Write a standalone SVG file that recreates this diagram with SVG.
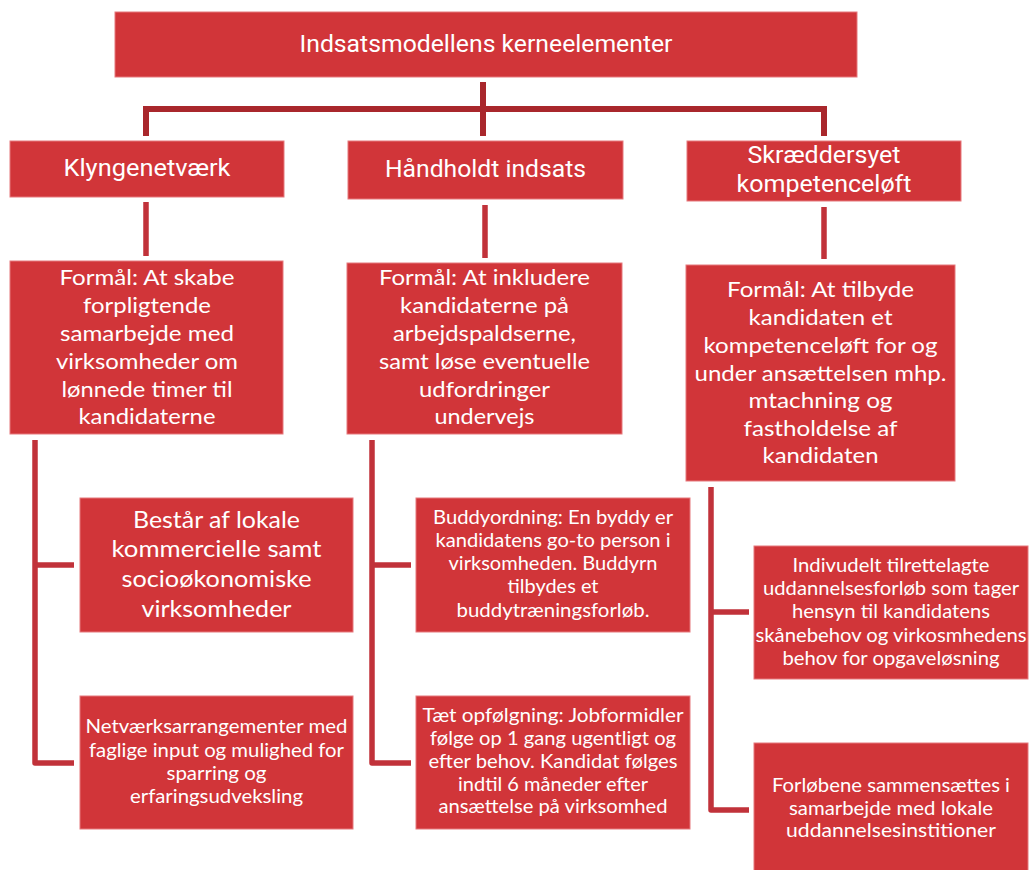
<svg xmlns="http://www.w3.org/2000/svg" width="1029" height="870" viewBox="0 0 1029 870">
<style>
.box{fill:#d13539;stroke:#e6797c;stroke-width:1}
.hd{font-family:Roboto,"Liberation Sans",sans-serif;font-size:24px;fill:#fff;text-anchor:middle}
.t{font-family:Lato,"Open Sans",sans-serif;fill:#fff;text-anchor:middle}
.f21{font-size:21px}
.f22{font-size:22.5px}
.f19{font-size:19px}
.c1{fill:none;stroke:#a9272c;stroke-width:6}
.c2{fill:none;stroke:#c1323a;stroke-width:5.5;stroke-linejoin:round}
</style>
<rect width="1029" height="870" fill="#fff"/>
<g id="connectors">
<path class="c1" d="M483 82V136M146 136V109H824V136"/>
<path class="c2" d="M146 202V256M485 205V258M824 207V259"/>
<path class="c2" d="M35 440V763H74M35 565H74"/>
<path class="c2" d="M372 440V763H411M372 565H411"/>
<path class="c2" d="M711 487V810H749M711 612H749"/>
</g>
<g id="title">
<rect class="box" x="115" y="12" width="742" height="65"/>
<text class="hd" x="486" y="52" textLength="373" lengthAdjust="spacingAndGlyphs">Indsatsmodellens kerneelementer</text>
</g>
<g id="klynge">
<rect class="box" x="10" y="141" width="274" height="56"/>
<text class="hd" x="147" y="176" textLength="167" lengthAdjust="spacingAndGlyphs">Klyngenetværk</text>
</g>
<g id="haandholdt">
<rect class="box" x="348" y="141" width="275" height="58"/>
<text class="hd" x="485.5" y="177" textLength="201" lengthAdjust="spacingAndGlyphs">Håndholdt indsats</text>
</g>
<g id="skraeddersyet">
<rect class="box" x="687" y="141" width="274" height="60"/>
<text class="hd" x="824" y="163" textLength="153" lengthAdjust="spacingAndGlyphs">Skræddersyet</text>
<text class="hd" x="824" y="192" textLength="175" lengthAdjust="spacingAndGlyphs">kompetenceløft</text>
</g>
<g id="formaal1">
<rect class="box" x="10" y="261" width="273" height="173"/>
<text class="t f21" x="147" y="285" textLength="175" lengthAdjust="spacingAndGlyphs">Formål: At skabe</text>
<text class="t f21" x="147" y="313" textLength="128" lengthAdjust="spacingAndGlyphs">forpligtende</text>
<text class="t f21" x="147" y="341" textLength="174" lengthAdjust="spacingAndGlyphs">samarbejde med</text>
<text class="t f21" x="147" y="369" textLength="182" lengthAdjust="spacingAndGlyphs">virksomheder om</text>
<text class="t f21" x="147" y="397" textLength="171" lengthAdjust="spacingAndGlyphs">lønnede timer til</text>
<text class="t f21" x="147" y="424" textLength="137" lengthAdjust="spacingAndGlyphs">kandidaterne</text>
</g>
<g id="formaal2">
<rect class="box" x="347" y="263" width="275" height="171"/>
<text class="t f21" x="484.5" y="285" textLength="211" lengthAdjust="spacingAndGlyphs">Formål: At inkludere</text>
<text class="t f21" x="484.5" y="313" textLength="169" lengthAdjust="spacingAndGlyphs">kandidaterne på</text>
<text class="t f21" x="484.5" y="341" textLength="183" lengthAdjust="spacingAndGlyphs">arbejdspaldserne,</text>
<text class="t f21" x="484.5" y="369" textLength="211" lengthAdjust="spacingAndGlyphs">samt løse eventuelle</text>
<text class="t f21" x="484.5" y="397" textLength="131" lengthAdjust="spacingAndGlyphs">udfordringer</text>
<text class="t f21" x="484.5" y="424" textLength="100" lengthAdjust="spacingAndGlyphs">undervejs</text>
</g>
<g id="formaal3">
<rect class="box" x="686" y="265" width="269" height="216"/>
<text class="t f21" x="820.5" y="297" textLength="187" lengthAdjust="spacingAndGlyphs">Formål: At tilbyde</text>
<text class="t f21" x="820.5" y="325" textLength="144" lengthAdjust="spacingAndGlyphs">kandidaten et</text>
<text class="t f21" x="820.5" y="353" textLength="234" lengthAdjust="spacingAndGlyphs">kompetenceløft for og</text>
<text class="t f21" x="820.5" y="381" textLength="252" lengthAdjust="spacingAndGlyphs">under ansættelsen mhp.</text>
<text class="t f21" x="820.5" y="408" textLength="144" lengthAdjust="spacingAndGlyphs">mtachning og</text>
<text class="t f21" x="820.5" y="436" textLength="154" lengthAdjust="spacingAndGlyphs">fastholdelse af</text>
<text class="t f21" x="820.5" y="463" textLength="116" lengthAdjust="spacingAndGlyphs">kandidaten</text>
</g>
<g id="bestaar">
<rect class="box" x="80" y="498" width="273" height="134"/>
<text class="t f22" x="216.5" y="528" textLength="167" lengthAdjust="spacingAndGlyphs">Består af lokale</text>
<text class="t f22" x="216.5" y="557" textLength="210" lengthAdjust="spacingAndGlyphs">kommercielle samt</text>
<text class="t f22" x="216.5" y="587" textLength="190" lengthAdjust="spacingAndGlyphs">socioøkonomiske</text>
<text class="t f22" x="216.5" y="617" textLength="150" lengthAdjust="spacingAndGlyphs">virksomheder</text>
</g>
<g id="buddy">
<rect class="box" x="416" y="498" width="274" height="134"/>
<text class="t f19" x="553" y="524" textLength="240" lengthAdjust="spacingAndGlyphs">Buddyordning: En byddy er</text>
<text class="t f19" x="553" y="547" textLength="235" lengthAdjust="spacingAndGlyphs">kandidatens go-to person i</text>
<text class="t f19" x="553" y="570" textLength="209" lengthAdjust="spacingAndGlyphs">virksomheden. Buddyrn</text>
<text class="t f19" x="553" y="593" textLength="91" lengthAdjust="spacingAndGlyphs">tilbydes et</text>
<text class="t f19" x="553" y="617" textLength="193" lengthAdjust="spacingAndGlyphs">buddytræningsforløb.</text>
</g>
<g id="individuelt">
<rect class="box" x="754" y="546" width="274" height="133"/>
<text class="t f19" x="891" y="572" textLength="197" lengthAdjust="spacingAndGlyphs">Indivudelt tilrettelagte</text>
<text class="t f19" x="891" y="595" textLength="256" lengthAdjust="spacingAndGlyphs">uddannelsesforløb som tager</text>
<text class="t f19" x="891" y="618" textLength="198" lengthAdjust="spacingAndGlyphs">hensyn til kandidatens</text>
<text class="t f19" x="891" y="642" textLength="271" lengthAdjust="spacingAndGlyphs">skånebehov og virkosmhedens</text>
<text class="t f19" x="891" y="665" textLength="217" lengthAdjust="spacingAndGlyphs">behov for opgaveløsning</text>
</g>
<g id="netvaerk">
<rect class="box" x="80" y="696" width="273" height="133"/>
<text class="t f19" x="216.5" y="733" textLength="262" lengthAdjust="spacingAndGlyphs">Netværksarrangementer med</text>
<text class="t f19" x="216.5" y="757" textLength="255" lengthAdjust="spacingAndGlyphs">faglige input og mulighed for</text>
<text class="t f19" x="216.5" y="780" textLength="100" lengthAdjust="spacingAndGlyphs">sparring og</text>
<text class="t f19" x="216.5" y="803" textLength="173" lengthAdjust="spacingAndGlyphs">erfaringsudveksling</text>
</g>
<g id="taet">
<rect class="box" x="416" y="696" width="274" height="133"/>
<text class="t f19" x="553" y="722" textLength="261" lengthAdjust="spacingAndGlyphs">Tæt opfølgning: Jobformidler</text>
<text class="t f19" x="553" y="745" textLength="246" lengthAdjust="spacingAndGlyphs">følge op 1 gang ugentligt og</text>
<text class="t f19" x="553" y="768" textLength="249" lengthAdjust="spacingAndGlyphs">efter behov. Kandidat følges</text>
<text class="t f19" x="553" y="791" textLength="190" lengthAdjust="spacingAndGlyphs">indtil 6 måneder efter</text>
<text class="t f19" x="553" y="813" textLength="229" lengthAdjust="spacingAndGlyphs">ansættelse på virksomhed</text>
</g>
<g id="forloebene">
<rect class="box" x="754" y="743" width="274" height="140"/>
<text class="t f19" x="891" y="792" textLength="238" lengthAdjust="spacingAndGlyphs">Forløbene sammensættes i</text>
<text class="t f19" x="891" y="815" textLength="204" lengthAdjust="spacingAndGlyphs">samarbejde med lokale</text>
<text class="t f19" x="891" y="837" textLength="210" lengthAdjust="spacingAndGlyphs">uddannelsesinstitioner</text>
</g>
</svg>
